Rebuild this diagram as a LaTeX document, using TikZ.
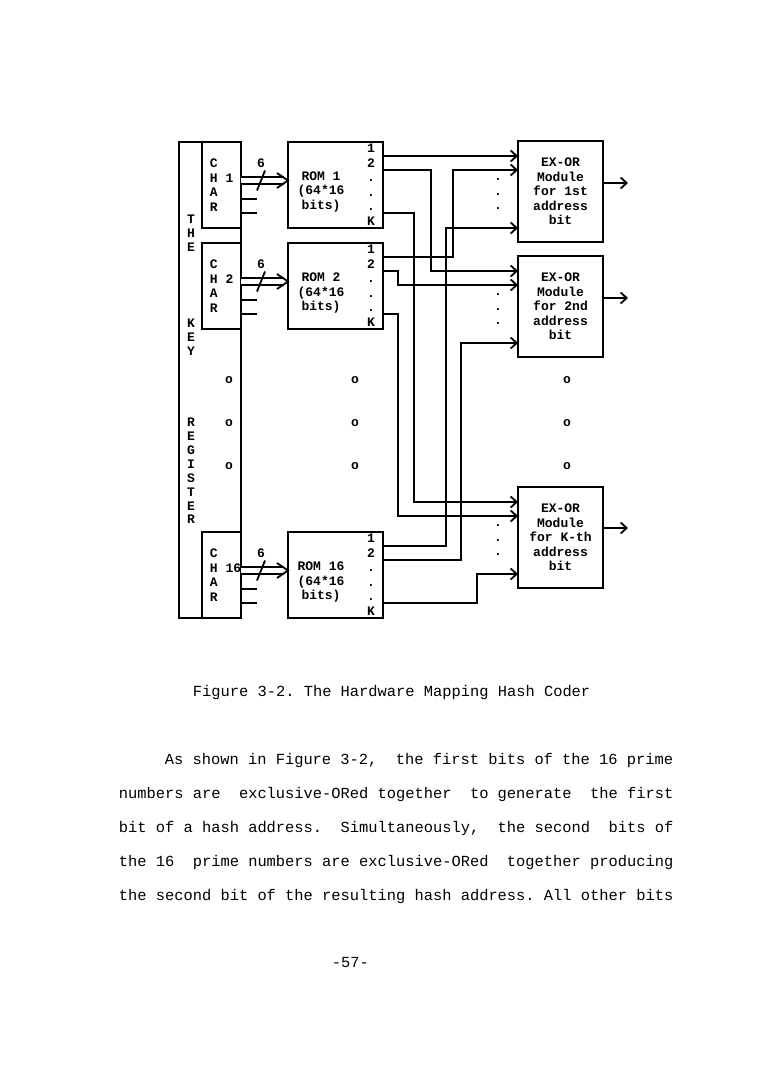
\documentclass[tikz,border=0pt]{standalone}
\usepackage{fontspec}
\setmonofont{Liberation Mono}
\usepackage{tikz}
\usetikzlibrary{calc,arrows.meta,positioning}

\begin{document}
\begin{tikzpicture}[x=1pt, y=-1pt, line width=1.8pt,
    box/.style={draw, rectangle, inner sep=0pt, outer sep=0pt},
    lbl/.style={font=\ttfamily\bfseries\fontsize{13}{14.5}\selectfont, align=center, inner sep=0pt},
    reglbl/.style={lbl, font=\ttfamily\bfseries\fontsize{13}{13.9}\selectfont},
    txt/.style={font=\ttfamily\fontsize{15.4}{18}\selectfont\frenchspacing, anchor=base west, inner sep=0pt},
    wire/.style={-{Straight Barb[length=6pt, width=11pt]}},
    bus/.style={double, double distance=5.2pt},
    bushead/.style={line join=miter}]
        \useasboundingbox (0,0) rectangle (760,1089);

        % key register with the char slots
        \node[box, minimum width=62pt, minimum height=476pt] (reg) at (210,380) {};
        \node[box, minimum width=39pt, minimum height=86pt] (c1)  at (221.5,185) {};
        \node[box, minimum width=39pt, minimum height=86pt] (c2)  at (221.5,286) {};
        \node[box, minimum width=39pt, minimum height=86pt] (c16) at (221.5,575) {};
        \node[reglbl] (the) at (191,233.5) {T\\H\\E};
        \node[reglbl] (key) at (191,337.5) {K\\E\\Y};
        \node[reglbl] (rgs) at (191,471)   {R\\E\\G\\I\\S\\T\\E\\R};
        \node[lbl, anchor=west, align=left] (t1)  at ($(c1.west)+(7,0)$)  {C\\H 1\\A\\R};
        \node[lbl, anchor=west, align=left] (t2)  at ($(c2.west)+(7,0)$)  {C\\H 2\\A\\R};
        \node[lbl, anchor=west, align=left] (t16) at ($(c16.west)+(7,0)$) {C\\H 16\\A\\R};

        % ROMs
        \node[box, minimum width=95pt, minimum height=86pt, right=47pt of c1]  (r1)  {};
        \node[box, minimum width=95pt, minimum height=86pt, right=47pt of c2]  (r2)  {};
        \node[box, minimum width=95pt, minimum height=86pt, right=47pt of c16] (r16) {};
        \node[lbl] (rt1)  at ($(r1.north west)+(33,50)$)  {ROM 1\\(64*16\\bits)};
        \node[lbl] (rt2)  at ($(r2.north west)+(33,50)$)  {ROM 2\\(64*16\\bits)};
        \node[lbl] (rt16) at ($(r16.north west)+(33,50)$) {ROM 16\\(64*16\\bits)};
        \node[lbl] (rl1)  at ($(r1.north east)+(-12,42.5)$)  {1\\2\\.\\.\\.\\K};
        \node[lbl] (rl2)  at ($(r2.north east)+(-12,42.5)$)  {1\\2\\.\\.\\.\\K};
        \node[lbl] (rl16) at ($(r16.north east)+(-12,42.5)$) {1\\2\\.\\.\\.\\K};

        % 6-bit buses and spare lines
        \coordinate (b1)  at ($(c1.north east)+(0,38.5)$);
        \coordinate (b2)  at ($(c2.north east)+(0,38.5)$);
        \coordinate (b16) at ($(c16.north east)+(0,38.5)$);
        \coordinate (h1)  at (b1 -| r1.west);
        \coordinate (h2)  at (b2 -| r2.west);
        \coordinate (h16) at (b16 -| r16.west);
        \draw[bus] (b1)  -- ($(h1)+(-4,0)$);
        \draw[bus] (b2)  -- ($(h2)+(-4,0)$);
        \draw[bus] (b16) -- ($(h16)+(-4,0)$);
        \draw[bushead] (h1)  ++(-11,-7.5) -- (h1)  -- ++(-11,7.5);
        \draw[bushead] (h2)  ++(-11,-7.5) -- (h2)  -- ++(-11,7.5);
        \draw[bushead] (h16) ++(-11,-7.5) -- (h16) -- ++(-11,7.5);
        \draw (b1)  ++(16,10) -- ++(8,-20);
        \draw (b2)  ++(16,10) -- ++(8,-20);
        \draw (b16) ++(16,10) -- ++(8,-20);
        \node[lbl] (n1)  at ($(b1)+(20,-17)$)  {6};
        \node[lbl] (n2)  at ($(b2)+(20,-17)$)  {6};
        \node[lbl] (n16) at ($(b16)+(20,-17)$) {6};
        \draw (c1.north east)  ++(0,57) -- ++(16,0) ++(-16,14) -- ++(16,0);
        \draw (c2.north east)  ++(0,57) -- ++(16,0) ++(-16,14) -- ++(16,0);
        \draw (c16.north east) ++(0,57) -- ++(16,0) ++(-16,14) -- ++(16,0);

        % EX-OR modules
        \node[box, lbl, minimum width=85pt, minimum height=101pt] (x1) at (560.5,191.5)
              {EX-OR\\Module\\for 1st\\address\\bit};
        \node[box, lbl, minimum width=85pt, minimum height=101pt] (x2) at (560.5,306.5)
              {EX-OR\\Module\\for 2nd\\address\\bit};
        \node[box, lbl, minimum width=85pt, minimum height=101pt] (xk) at (560.5,537.5)
              {EX-OR\\Module\\for K-th\\address\\bit};
        \node[lbl] (d1) at ($(x1.north west)+(-20,53.5)$) {.\\.\\.};
        \node[lbl] (d2) at ($(x2.north west)+(-20,53.5)$) {.\\.\\.};
        \node[lbl] (dk) at ($(xk.north west)+(-20,53.5)$) {.\\.\\.};

        % skipped rows
        \node[lbl] (oc1) at (229,380) {o};
        \node[lbl] (oc2) at (229,423) {o};
        \node[lbl] (oc3) at (229,466) {o};
        \node[lbl] (or1) at (355,380) {o};
        \node[lbl] (or2) at (355,423) {o};
        \node[lbl] (or3) at (355,466) {o};
        \node[lbl] (ox1) at (567,380) {o};
        \node[lbl] (ox2) at (567,423) {o};
        \node[lbl] (ox3) at (567,466) {o};

        % ports
        \coordinate (r1a)  at ($(r1.north east)+(0,14)$);
        \coordinate (r1b)  at ($(r1.north east)+(0,28)$);
        \coordinate (r1k)  at ($(r1.north east)+(0,71)$);
        \coordinate (r2a)  at ($(r2.north east)+(0,14)$);
        \coordinate (r2b)  at ($(r2.north east)+(0,28)$);
        \coordinate (r2k)  at ($(r2.north east)+(0,71)$);
        \coordinate (r16a) at ($(r16.north east)+(0,14)$);
        \coordinate (r16b) at ($(r16.north east)+(0,28)$);
        \coordinate (r16k) at ($(r16.north east)+(0,71)$);
        \coordinate (x1a) at ($(x1.north west)+(0,15)$);
        \coordinate (x1b) at ($(x1.north west)+(0,29)$);
        \coordinate (x1c) at ($(x1.north west)+(0,87)$);
        \coordinate (x2a) at ($(x2.north west)+(0,15)$);
        \coordinate (x2b) at ($(x2.north west)+(0,29)$);
        \coordinate (x2c) at ($(x2.north west)+(0,87)$);
        \coordinate (xka) at ($(xk.north west)+(0,15)$);
        \coordinate (xkb) at ($(xk.north west)+(0,29)$);
        \coordinate (xkc) at ($(xk.north west)+(0,87)$);

        % bit lines
        \draw[wire] (r1a)  -- (x1a);
        \draw[wire] (r1b)  -- ++(48,0) |- (x2a);
        \draw[wire] (r1k)  -- ++(31,0) |- (xka);
        \draw[wire] (r2a)  -- ++(70,0) |- (x1b);
        \draw[wire] (r2b)  -- ++(15,0) |- (x2b);
        \draw[wire] (r2k)  -- ++(15,0) |- (xkb);
        \draw[wire] (r16a) -- ++(63,0) |- (x1c);
        \draw[wire] (r16b) -- ++(78,0) |- (x2c);
        \draw[wire] (r16k) -- ++(94,0) |- (xkc);
        \draw[wire] ($(x1.north east)+(0,42)$) -- ++(25,0);
        \draw[wire] ($(x2.north east)+(0,42)$) -- ++(25,0);
        \draw[wire] ($(xk.north east)+(0,41)$) -- ++(25,0);

        % caption and page text
        \node[txt] (cap) at (192,696) {Figure 3-2. The Hardware Mapping Hash Coder};
        \node[txt] (ln1) at (164,764) {As shown in Figure 3-2,~ the first bits of the 16 prime};
        \node[txt] (ln2) at (118,798) {numbers are~ exclusive-ORed together~ to generate~ the first};
        \node[txt] (ln3) at (118,832) {bit of a hash address.~ Simultaneously,~ the second~ bits of};
        \node[txt] (ln4) at (118,866) {the 16~ prime numbers are exclusive-ORed~ together producing};
        \node[txt] (ln5) at (118,900) {the second bit of the resulting hash address. All other bits};
        \node[txt] (pg)  at (331,967) {-57-};
    \end{tikzpicture}
\end{document}
